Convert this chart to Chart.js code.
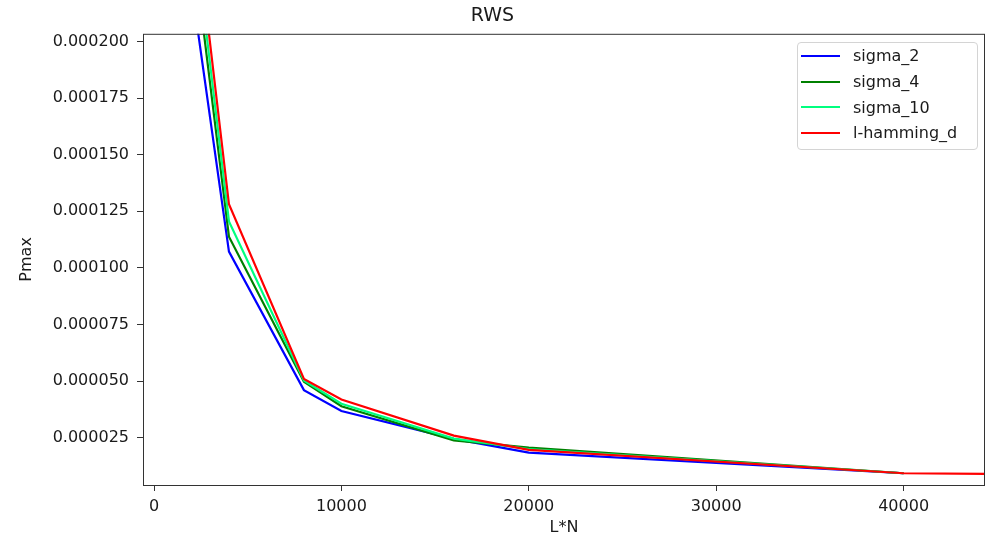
<!DOCTYPE html>
<html lang="en">
<head>
    <meta charset="UTF-8" />
    <title>RWS</title>
    <script src="https://cdn.jsdelivr.net/npm/chart.js"></script>
    <style>
        body { margin: 0; background: #fff; }
        .wrap { position: relative; width: 986px; height: 538px; }
        .legend {
            position: absolute; left: 797px; top: 42px; width: 179px;
            padding-bottom: 3px;
            border: 1px solid #d4d4d4; border-radius: 4px;
            background: rgba(255, 255, 255, 0.8);
            font-family: "DejaVu Sans", sans-serif; font-size: 16px; color: #1a1a1a;
        }
        .legend .row { height: 25.7px; display: flex; align-items: center; }
        .legend .swatch { width: 39px; height: 2px; margin-left: 3px; margin-right: 13px; }
    </style>
</head>
<body>
    <div class="wrap">
        <canvas id="myChart"></canvas>
        <div class="legend" id="legend"></div>
    </div>

    <script>
        // L*N values
        const xValues = [2000, 4000, 8000, 10000, 16000, 20000, 40000];
        const xValuesHamming = [2000, 4000, 8000, 10000, 16000, 20000, 40000, 80000];

        const sigma2 = [0.0002247, 0.0001072, 0.0000460, 0.0000368, 0.0000245, 0.0000184, 0.0000093];
        const sigma4 = [0.0002482, 0.0001138, 0.0000497, 0.0000389, 0.0000238, 0.0000206, 0.0000093];
        const sigma10 = [0.0002586, 0.0001205, 0.0000503, 0.0000400, 0.0000246, 0.0000200, 0.0000093];
        const hamming = [0.0002692, 0.0001281, 0.0000509, 0.0000419, 0.0000259, 0.0000196, 0.0000093, 0.0000066];

        const seriesNames = ["sigma_2", "sigma_4", "sigma_10", "l-hamming_d"];
        const seriesColors = ["#0000ff", "#008000", "#00ff7f", "#ff0000"];

        const xTicks = [0, 10000, 20000, 30000, 40000];
        const yTicks = [0.000025, 0.00005, 0.000075, 0.0001, 0.000125, 0.00015, 0.000175, 0.0002];

        const seriesX = [xValues, xValues, xValues, xValuesHamming];
        const seriesY = [sigma2, sigma4, sigma10, hamming];

        Chart.defaults.font.family = "'DejaVu Sans', sans-serif";
        Chart.defaults.color = "#1a1a1a";

        const datasets = seriesNames.map((name, i) => ({
            label: name,
            data: seriesY[i].map((v, j) => ({ x: seriesX[i][j], y: v })),
            borderColor: seriesColors[i],
            backgroundColor: seriesColors[i],
            borderWidth: 2.2,
            pointRadius: 0,
            fill: false,
            tension: 0,
            order: seriesNames.length - i,
        }));

        // matplotlib style frame round the plot area
        const frame = {
            id: "frame",
            afterDraw(chart) {
                const { ctx, chartArea: a } = chart;
                ctx.save();
                ctx.strokeStyle = "#333";
                ctx.lineWidth = 1;
                ctx.strokeRect(a.left + 0.5, a.top + 0.5, a.right - a.left - 1, a.bottom - a.top);
                ctx.restore();
            },
        };

        new Chart(document.getElementById("myChart"), {
            type: "line",
            data: { datasets },
            plugins: [frame],
            options: {
                responsive: true,
                maintainAspectRatio: false,
                animation: false,
                layout: { padding: { left: 0, right: 1, top: 0, bottom: 0 } },
                plugins: {
                    legend: { display: false },
                    tooltip: { enabled: false },
                    title: {
                        display: true,
                        text: "RWS",
                        color: "#1a1a1a",
                        font: { size: 19, weight: "normal", lineHeight: 1.2 },
                        padding: { top: 5, bottom: 6 },
                    },
                },
                scales: {
                    x: {
                        type: "linear",
                        min: -587,
                        max: 44343,
                        afterBuildTicks: (s) => { s.ticks = xTicks.map((v) => ({ value: v })); },
                        afterFit: (s) => { s.height = 53; },
                        border: { display: false },
                        grid: { drawOnChartArea: false, drawTicks: true, tickLength: 6, color: "#333" },
                        ticks: { font: { size: 16 }, padding: 6, maxRotation: 0, callback: (v) => String(v) },
                        title: { display: true, text: "L*N", font: { size: 16 }, padding: { top: 1, bottom: 1 } },
                    },
                    y: {
                        type: "linear",
                        min: 0.0000041,
                        max: 0.0002034,
                        afterBuildTicks: (s) => { s.ticks = yTicks.map((v) => ({ value: v })); },
                        afterFit: (s) => { s.width = 143; },
                        border: { display: false },
                        grid: { drawOnChartArea: false, drawTicks: true, tickLength: 6, color: "#333" },
                        ticks: { font: { size: 16 }, padding: 8, callback: (v) => v.toFixed(6) },
                        title: { display: true, text: "Pmax", font: { size: 16 }, padding: { top: 17, bottom: 0 } },
                    },
                },
            },
        });

        // legend box inside the axes, upper right
        const legend = document.getElementById("legend");
        seriesNames.forEach((name, i) => {
            const row = document.createElement("div");
            row.className = "row";
            const sw = document.createElement("span");
            sw.className = "swatch";
            sw.style.background = seriesColors[i];
            const label = document.createElement("span");
            label.textContent = name;
            row.appendChild(sw);
            row.appendChild(label);
            legend.appendChild(row);
        });
    </script>
</body>
</html>
